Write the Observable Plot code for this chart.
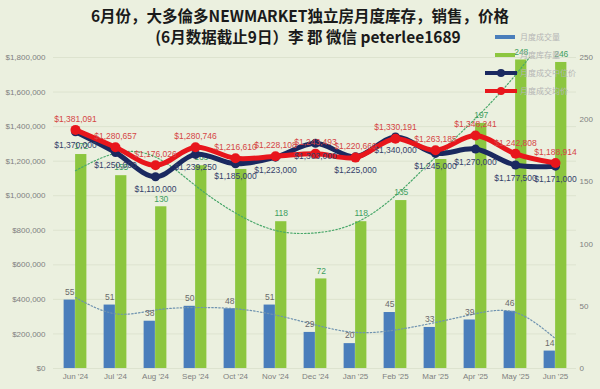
<!DOCTYPE html>
<html>
<head>
<meta charset="utf-8">
<script src="https://cdn.jsdelivr.net/npm/d3@7"></script>
<script src="https://cdn.jsdelivr.net/npm/@observablehq/plot@0.6"></script>
<style>
  html, body { margin: 0; padding: 0; background: #ebf0df; }
  #wrap { position: relative; width: 600px; height: 389px; overflow: hidden; }
  #title { position: absolute; left: 0; top: 5px; width: 600px; text-align: center;
    font-family: "Noto Sans CJK SC", "Noto Sans", sans-serif; font-weight: 700; font-size: 15.5px;
    line-height: 21px; color: #1a1a1a; }
  #title .l2 { position: relative; left: 8px; }
  .leg { position: absolute; font-family: "Noto Sans CJK SC", sans-serif; font-size: 8px; color: #b5b5b5; white-space: nowrap; }
  .leg svg { position: absolute; left: 0; top: 0; }
  .leg span { position: absolute; left: 36px; top: -6px; }
</style>
</head>
<body>
<div id="wrap">
  <div id="chart"></div>
  <div id="title">6月份，大多倫多NEWMARKET独立房月度库存，销售，价格<br><span class="l2">(6月数据截止9日）李 郡 微信 peterlee1689</span></div>
</div>
<script>
// ---- data ----
const months = ["Jun '24","Jul '24","Aug '24","Sep '24","Oct '24","Nov '24","Dec '24","Jan '25","Feb '25","Mar '25","Apr '25","May '25","Jun '25"];
const sales = [55, 51, 38, 50, 48, 51, 29, 20, 45, 33, 39, 46, 14];
const inventory = [172, 155, 130, 163, 160, 118, 72, 118, 135, 168, 197, 248, 246];
const medianPrice = [1370000, 1250000, 1110000, 1239250, 1185000, 1223000, 1303000, 1225000, 1340000, 1245000, 1270000, 1177500, 1171000];
const avgPrice = [1381091, 1280657, 1176026, 1280746, 1216610, 1228108, 1243493, 1220660, 1330191, 1263185, 1348241, 1242808, 1188914];
// dotted trend lines (right-axis units)
const salesTrend = [57, 44, 47, 49, 48, 43, 35, 29, 31, 37, 44, 45, 24];
const inventoryTrend = [159, 173, 170, 147, 125, 111, 109, 117, 139, 170, 201, 236, 278];
const leftTicks = [0, 200000, 400000, 600000, 800000, 1000000, 1200000, 1400000, 1600000, 1800000];
const rightTicks = [0, 50, 100, 150, 200, 250];
const legendLabels = ["月度成交量", "月度库存量", "月度成交中位价", "月度成交均价"];

// right axis (counts) mapped onto the left scale: 250 <-> 1,800,000
const K = 1800000 / 250;
const rows = months.map((m, i) => ({
  month: m, sales: sales[i], inv: inventory[i], median: medianPrice[i], avg: avgPrice[i],
  salesT: salesTrend[i], invT: inventoryTrend[i]
}));

const money = d => "$" + d3.format(",")(d);
const step = (600 - 53 - 24) / months.length;
const bw = 11.5;
const font = "'Liberation Sans', Arial, sans-serif";

const chart = Plot.plot({
  width: 600, height: 389,
  marginTop: 57, marginBottom: 21, marginLeft: 53, marginRight: 24,
  style: { background: "transparent", fontFamily: font, fontSize: "8px", color: "#808080" },
  x: { type: "band", domain: months, padding: 0, label: null },
  y: { domain: [0, 1800000], label: null },
  marks: [
    Plot.gridY(leftTicks, { stroke: "#dde3cf", strokeOpacity: 1 }),
    Plot.axisY({ ticks: leftTicks, tickFormat: money, tickSize: 0, tickPadding: 8, label: null, fill: "#808080" }),
    Plot.axisY({ anchor: "right", ticks: rightTicks.map(v => v * K), tickFormat: d => Math.round(d / K), tickSize: 0, tickPadding: 3, label: null, fill: "#808080" }),
    Plot.axisX({ tickSize: 0, tickPadding: 5, label: null, fill: "#808080" }),
    Plot.barY(rows, { x: "month", y: d => d.sales * K, fill: "#4a7ebb", insetLeft: step / 2 - bw, insetRight: step / 2 }),
    Plot.barY(rows, { x: "month", y: d => d.inv * K, fill: "#8cc63f", insetLeft: step / 2, insetRight: step / 2 - bw }),
    Plot.line(rows, { x: "month", y: d => d.salesT * K, stroke: "#6f93b0", strokeWidth: 1.2, strokeDasharray: "1.5,2", curve: "natural" }),
    Plot.line(rows, { x: "month", y: d => d.invT * K, stroke: "#4aa86b", strokeWidth: 1.2, strokeDasharray: "1.5,2", curve: "natural", clip: true }),
    Plot.text(rows, { x: "month", y: d => d.sales * K, text: d => d.sales, dx: -bw / 2, dy: -8, fill: "#6a6a6a", fontSize: 8.5 }),
    Plot.text(rows, { x: "month", y: d => d.inv * K, text: d => d.inv, dx: bw / 2, dy: -8, fill: "#3f9e60", fontSize: 8.5 }),
    Plot.line(rows, { x: "month", y: "median", stroke: "#1a2960", strokeWidth: 5, curve: "catmull-rom" }),
    Plot.dot(rows, { x: "month", y: "median", r: 4.5, fill: "#1a2960" }),
    Plot.line(rows, { x: "month", y: "avg", stroke: "#e8161c", strokeWidth: 5, curve: "catmull-rom" }),
    Plot.dot(rows, { x: "month", y: "avg", r: 5, fill: "#e8161c" }),
    Plot.text(rows, { x: "month", y: "median", text: d => money(d.median), dy: 13, fill: "#34406a", fontSize: 8.5 }),
    Plot.text(rows, { x: "month", y: "avg", text: d => money(d.avg), dy: -11, fill: "#d54545", fontSize: 8.5 })
  ]
});
document.getElementById("chart").appendChild(chart);

// legend (top right)
const wrap = document.getElementById("wrap");
const legendDefs = [
  { y: 37, kind: "bar", color: "#4a7ebb" },
  { y: 55, kind: "bar", color: "#8cc63f" },
  { y: 73, kind: "line", color: "#1a2960" },
  { y: 91, kind: "line", color: "#e8161c" }
];
legendDefs.forEach((L, i) => {
  const div = document.createElement("div");
  div.className = "leg";
  div.style.left = "484px";
  div.style.top = L.y + "px";
  const sw = L.kind === "bar"
    ? `<svg width="34" height="10" style="top:-5px"><rect x="11" y="3" width="20" height="4" fill="${L.color}"/></svg>`
    : `<svg width="34" height="10" style="top:-5px"><line x1="1" y1="5" x2="33" y2="5" stroke="${L.color}" stroke-width="4"/><circle cx="17" cy="5" r="4" fill="${L.color}"/></svg>`;
  div.innerHTML = sw + `<span>${legendLabels[i]}</span>`;
  wrap.appendChild(div);
});
</script>
</body>
</html>
